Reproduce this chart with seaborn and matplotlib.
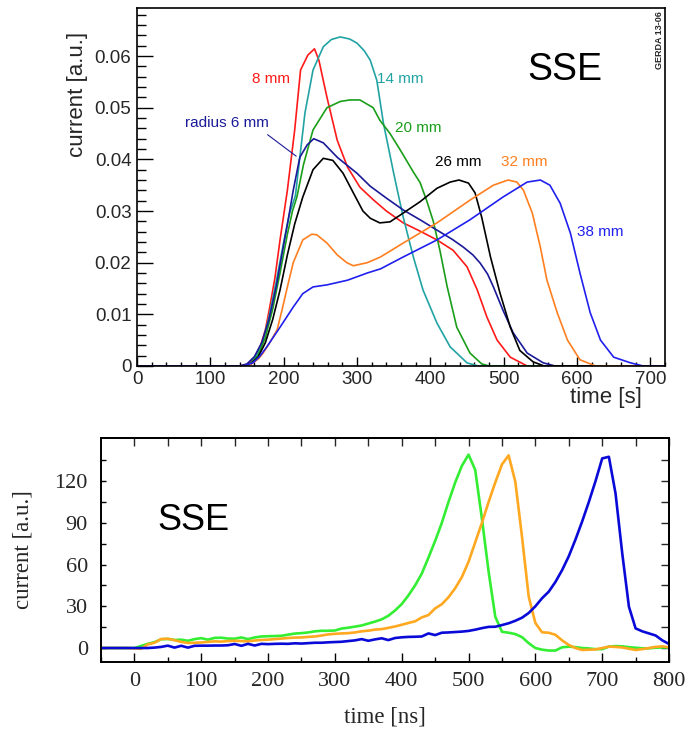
import numpy as np
import pandas as pd
import matplotlib
matplotlib.use("Agg")
import matplotlib.pyplot as plt
from matplotlib.ticker import MultipleLocator, FuncFormatter, FixedLocator
import seaborn as sns

sns.set_style("white")
plt.rcParams['font.family'] = ['Liberation Sans', 'DejaVu Sans']

# ---------------- top panel data (time [s], current [a.u.]) ----------------
t_6mm = [0, 140, 150, 160, 170, 180, 190, 200, 207, 213, 222, 232, 241, 254, 273, 300, 318, 340, 363, 386,
         409, 430, 445, 458, 468, 478, 486, 499, 513, 532, 554, 570, 720]
i_6mm = [0, 0, 0.0004, 0.0018, 0.0045, 0.009, 0.0155, 0.0235, 0.029, 0.034, 0.0404, 0.0428, 0.044, 0.0432,
         0.0404, 0.0373, 0.0348, 0.0325, 0.0302, 0.0283, 0.0263, 0.0245, 0.023, 0.0215, 0.0199, 0.0178,
         0.0153, 0.0108, 0.0064, 0.0025, 0.0006, 0, 0]

t_8mm = [0, 140, 150, 160, 168, 175, 181, 188, 195, 205, 215, 223, 233, 242, 248, 259, 273, 287, 304, 322,
         340, 363, 386, 409, 431, 450, 464, 477, 491, 509, 532, 720]
i_8mm = [0, 0, 0.0003, 0.0015, 0.0037, 0.007, 0.0114, 0.017, 0.0244, 0.034, 0.0457, 0.0573, 0.0602, 0.0614,
         0.0592, 0.052, 0.0437, 0.0385, 0.0346, 0.0322, 0.030, 0.0277, 0.0261, 0.0244, 0.0224, 0.0192,
         0.0147, 0.0095, 0.005, 0.0017, 0, 0]

t_14mm = [0, 145, 155, 165, 172, 180, 190, 200, 208, 216, 229, 240, 254, 265, 277, 290, 300, 310, 318, 327,
          336, 350, 355, 363, 377, 390, 409, 427, 450, 465, 720]
i_14mm = [0, 0, 0.0005, 0.0025, 0.005, 0.0095, 0.0165, 0.024, 0.0295, 0.033, 0.049, 0.0573, 0.0618, 0.0632,
          0.0637, 0.0633, 0.0625, 0.061, 0.0592, 0.0553, 0.047, 0.0373, 0.034, 0.0288, 0.021, 0.0147,
          0.0083, 0.0037, 0.0006, 0, 0]

t_20mm = [0, 145, 155, 165, 175, 185, 195, 205, 212, 218, 227, 240, 259, 277, 290, 304, 322, 331, 345, 359,
          377, 386, 395, 404, 413, 423, 436, 454, 470, 480, 720]
i_20mm = [0, 0, 0.0004, 0.002, 0.0055, 0.011, 0.018, 0.0255, 0.030, 0.0327, 0.039, 0.0457, 0.050, 0.0512,
          0.0515, 0.0515, 0.050, 0.0476, 0.045, 0.0418, 0.0375, 0.0355, 0.032, 0.028, 0.0224, 0.0153,
          0.0075, 0.0025, 0.0004, 0, 0]

t_26mm = [0, 145, 155, 165, 175, 185, 195, 205, 215, 226, 240, 254, 267, 281, 295, 308, 318, 331, 345, 363,
          386, 409, 427, 439, 452, 461, 470, 482, 495, 509, 522, 540, 555, 720]
i_26mm = [0, 0, 0.0004, 0.0017, 0.0045, 0.009, 0.0147, 0.0215, 0.0275, 0.0327, 0.038, 0.0402, 0.0398,
          0.0373, 0.0335, 0.030, 0.0286, 0.0277, 0.0279, 0.0296, 0.0318, 0.0344, 0.0356, 0.036, 0.0354,
          0.0335, 0.0288, 0.0211, 0.0141, 0.0075, 0.003, 0.0008, 0, 0]

t_32mm = [0, 145, 155, 165, 172, 181, 191, 198, 204, 213, 226, 238, 245, 259, 273, 286, 295, 314, 332, 363,
          409, 454, 486, 506, 518, 527, 539, 550, 559, 573, 587, 604, 625, 720]
i_32mm = [0, 0, 0.0003, 0.0013, 0.0025, 0.0045, 0.007, 0.011, 0.0147, 0.020, 0.0244, 0.0255, 0.0254,
          0.0238, 0.0215, 0.020, 0.0194, 0.020, 0.0211, 0.0238, 0.0277, 0.0321, 0.035, 0.036, 0.0356,
          0.034, 0.0296, 0.023, 0.0166, 0.0103, 0.005, 0.0012, 0, 0]

t_38mm = [0, 145, 158, 167, 177, 195, 213, 226, 240, 259, 287, 314, 332, 363, 409, 454, 499, 532, 550, 563,
          577, 591, 604, 618, 632, 650, 673, 690, 720]
i_38mm = [0, 0, 0.0006, 0.0018, 0.0037, 0.0075, 0.0114, 0.014, 0.0153, 0.0157, 0.0166, 0.018, 0.0188,
          0.0211, 0.0244, 0.0283, 0.0327, 0.0356, 0.036, 0.035, 0.0315, 0.0257, 0.018, 0.0103, 0.005,
          0.0017, 0.0006, 0, 0]

top_series = [
    ("8 mm", t_8mm, i_8mm, "#ff1a1a"),
    ("14 mm", t_14mm, i_14mm, "#22a3a3"),
    ("20 mm", t_20mm, i_20mm, "#1a9e1a"),
    ("radius 6 mm", t_6mm, i_6mm, "#1a1a99"),
    ("26 mm", t_26mm, i_26mm, "#000000"),
    ("32 mm", t_32mm, i_32mm, "#ff7f20"),
    ("38 mm", t_38mm, i_38mm, "#2020ee"),
]

# label positions (data coords) for the top panel
top_labels = {
    "8 mm": (157, 0.0555), "14 mm": (327, 0.0555), "20 mm": (352, 0.046),
    "26 mm": (406, 0.0395), "32 mm": (497, 0.0395), "38 mm": (600, 0.026),
    "radius 6 mm": (65, 0.047),
}

# ---------------- bottom panel data (time [ns], current [a.u.]) ----------------
t_ns = [-50, -40, -30, -20, -10, 0, 10, 20, 30, 40, 50, 60, 70, 80, 90, 100, 110, 120, 130, 140,
        150, 160, 170, 180, 190, 200, 210, 220, 230, 240, 250, 260, 270, 280, 290, 300, 310, 320,
        330, 340, 350, 360, 370, 380, 390, 400, 410, 420, 430, 440, 450, 460, 470, 480, 490, 500,
        510, 520, 530, 540, 550, 560, 570, 580, 590, 600, 610, 620, 630, 640, 650, 660, 670, 680,
        690, 700, 710, 720, 730, 740, 750, 760, 770, 780, 790, 800]
green_ns = [0, 0, 0, 0, 0, 0, 1.5, 3, 4.2, 6.3, 6.5, 5.8, 6, 5.2, 6.4, 7.1, 6, 7.3, 7.4, 6.8,
            6.7, 7.6, 6.4, 7.6, 8.3, 8.5, 8.6, 8.8, 9.6, 10.4, 10.7, 11.2, 12, 12.4, 12.4, 12.6, 14, 14.6,
            15.4, 16.2, 17.6, 19, 20.6, 23.2, 27, 31.6, 37.8, 45, 53.5, 65, 77, 90, 105, 119, 131, 139,
            128, 93, 55, 22.5, 11.7, 11, 10, 7.8, 3.5, 0, -1.2, -1.8, -1.8, 0.5, 1, 0.6, 0, -0.3,
            -0.8, -0.8, 1, 1.4, 1.2, 0.6, 0.2, -0.2, -0.2, 0.2, 0.4, 0.5]
orange_ns = [0, 0, 0, 0, 0, -0.3, -0.6, 2.6, 3.8, 6.5, 6.7, 5.6, 4.4, 3.6, 3.8, 4, 4.4, 4.8, 4.6, 5,
             5.2, 5, 4.8, 5.4, 5.8, 6, 6.4, 6.8, 7.2, 7.5, 7.6, 8, 8.3, 9, 9.8, 10.2, 10.5, 10.7,
             11.2, 12, 12.5, 13.2, 13.6, 14.5, 15.5, 16.7, 18, 19.2, 22, 23.7, 28.5, 31.5, 36.5, 43, 51, 62,
             76, 90, 105, 119, 132, 138.5, 119.5, 80, 37, 18, 11.3, 11, 9.5, 5.5, 2.2, 0, -1.4, -1.2,
             -1, 0, 1, 0.8, 0.4, -0.5, -1.4, -0.8, 0, 0.8, 1.2, 0.5]
blue_ns = [0, 0, 0, 0, 0, 0, 0, 0, 0.3, 0.8, 1.7, 0.3, 1.6, 0.3, 1.6, 1.7, 1.7, 1.8, 1.8, 2,
           2.9, 1.6, 3, 1.8, 3, 2.8, 3, 3.1, 3, 3.4, 3.2, 3.5, 3.8, 3.8, 4.1, 4.3, 4.5, 5,
           5.5, 6.4, 5.2, 6.2, 7, 5.7, 7.2, 7.7, 8, 8.1, 8.3, 10.5, 9.3, 11, 11.2, 11.5, 11.8, 12.3,
           13.2, 14.3, 15.2, 15.3, 16.5, 17.8, 19.6, 21.8, 25.2, 30, 35.8, 40.5, 47.5, 56, 66, 78, 91, 105,
           120, 136.3, 137.5, 111, 68, 29.7, 14.1, 12, 10.5, 9, 5.5, 2.9]

bottom_series = [
    ("green", green_ns, "#33ee33"),
    ("orange", orange_ns, "#ffa820"),
    ("blue", blue_ns, "#0a0ad8"),
]
bottom_yticks = [0, 30, 60, 90, 120]

# ---------------- figure ----------------
fig = plt.figure(figsize=(6.9, 7.29), dpi=100)
ax1 = fig.add_axes([0.1986, 0.498, 0.7652, 0.491])
ax2 = fig.add_axes([0.1464, 0.092, 0.8232, 0.3072])

# ---- top panel ----
for name, t, y, c in top_series:
    sns.lineplot(x=t, y=y, color=c, linewidth=1.2, ax=ax1, sort=False, estimator=None)
    lx, ly = top_labels[name]
    ax1.text(lx, ly, name, color=c, fontsize=11, ha='left', va='center')
ax1.annotate("", xy=(220, 0.0403), xytext=(175, 0.0451),
             arrowprops=dict(arrowstyle='-', color='#1a1a99', lw=0.8))

ax1.set_xlim(0, 720)
ax1.set_ylim(0, 0.0693)
ax1.xaxis.set_major_locator(MultipleLocator(100))
ax1.xaxis.set_minor_locator(MultipleLocator(20))
ax1.yaxis.set_major_locator(MultipleLocator(0.01))
ax1.yaxis.set_minor_locator(MultipleLocator(0.002))
ax1.yaxis.set_major_formatter(FuncFormatter(lambda v, p: '0' if abs(v) < 1e-9 else f'{v:.2f}'))
ax1.tick_params(axis='both', which='both', direction='in', labelsize=13.5, color='black', width=1.0,
                bottom=True, left=True, top=False, right=False)
ax1.tick_params(axis='y', which='major', length=11.5, pad=4)
ax1.tick_params(axis='y', which='minor', length=6.5)
ax1.tick_params(axis='x', which='major', length=6.5, pad=3.5)
ax1.tick_params(axis='x', which='minor', length=3.2)
for s in ax1.spines.values():
    s.set_linewidth(1.2)
    s.set_color('black')

ax1.set_xlabel('time [s]', fontsize=16)
ax1.xaxis.label.set_ha('right')
ax1.xaxis.label.set_va('top')
ax1.xaxis.set_label_coords(0.957, -0.058)
ax1.set_ylabel('current [a.u.]', fontsize=16, loc='top')
ax1.yaxis.label.set_va('center')
ax1.yaxis.set_label_coords(-0.112, 0.933)

ax1.text(532, 0.0573, 'SSE', fontsize=27, ha='left', va='center', color='black')
ax1.text(0.9886, 0.9106, 'GERDA 13-06', transform=ax1.transAxes, rotation=90,
         fontsize=6.5, fontweight='bold', ha='center', va='center')

# ---- bottom panel ----
for name, y, c in bottom_series:
    sns.lineplot(x=t_ns, y=y, color=c, linewidth=1.9, ax=ax2, sort=False, estimator=None)

ax2.set_xlim(-50, 800)
ax2.set_ylim(-10, 151)
serif = ['Liberation Serif', 'DejaVu Serif']
ax2.xaxis.set_major_locator(MultipleLocator(100))
ax2.xaxis.set_minor_locator(MultipleLocator(50))
ax2.yaxis.set_major_locator(FixedLocator(bottom_yticks))
ax2.yaxis.set_minor_locator(FixedLocator([15, 45, 75, 105, 135]))
ax2.tick_params(axis='both', which='both', direction='in', color='black', width=1.0, labelsize=16,
                bottom=True, left=True, top=False, right=False)
ax2.tick_params(axis='x', which='major', length=6.5, pad=7.5)
ax2.tick_params(axis='x', which='minor', length=3.3)
ax2.tick_params(axis='y', which='both', length=3.8, pad=9.5)
for lab in ax2.get_xticklabels() + ax2.get_yticklabels():
    lab.set_family(serif)
for s in ax2.spines.values():
    s.set_linewidth(1.4)
    s.set_color('black')

sec_x = ax2.secondary_xaxis('top')
sec_x.set_xticks(list(range(0, 801, 50)))
sec_x.tick_params(direction='in', length=5.5, width=1.0, top=True, labeltop=False)
sec_x.spines['top'].set_linewidth(1.4)
sec_y = ax2.secondary_yaxis('right')
sec_y.set_yticks(list(range(0, 136, 15)))
sec_y.tick_params(direction='in', length=5.5, width=1.0, right=True, labelright=False)
sec_y.spines['right'].set_linewidth(1.4)

ax2.set_xlabel('time [ns]', fontsize=16.5, family=serif)
ax2.xaxis.label.set_va('center')
ax2.xaxis.set_label_coords(0.5, -0.245)
ax2.set_ylabel('current [a.u.]', fontsize=16.5, family=serif)
ax2.yaxis.label.set_va('center')
ax2.yaxis.set_label_coords(-0.137, 0.5)

ax2.text(34, 92, 'SSE', fontsize=26, ha='left', va='center', color='black')

fig.savefig('out.png', dpi=100)
